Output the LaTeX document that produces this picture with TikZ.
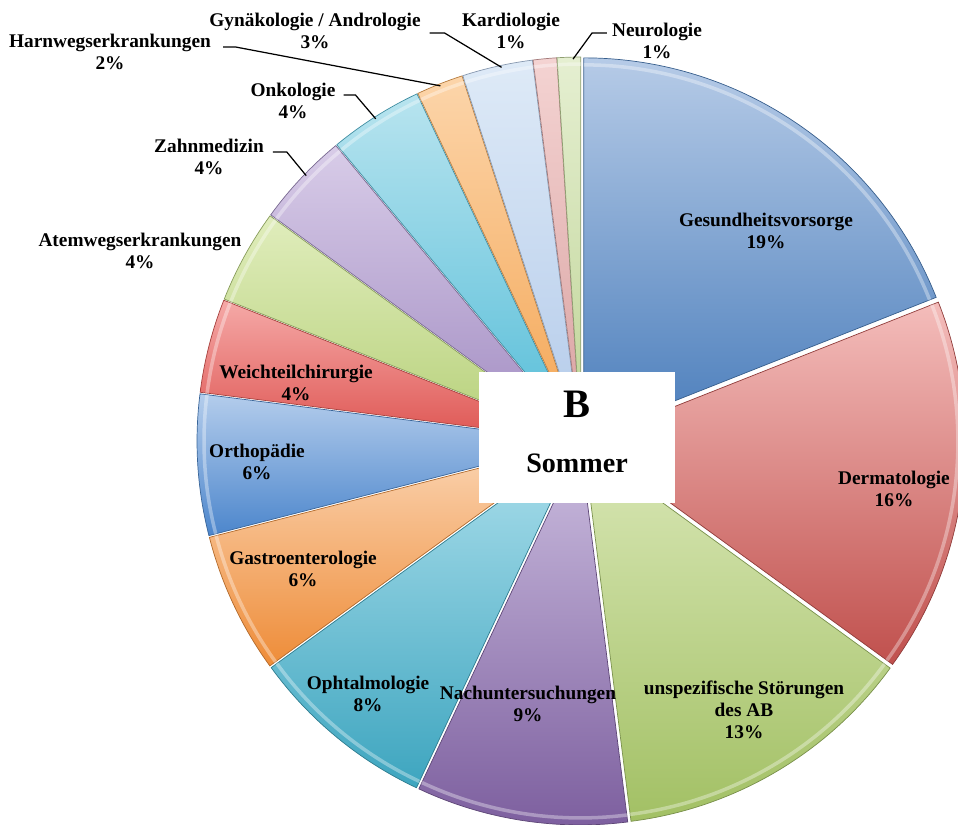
\documentclass[tikz,border=0pt]{standalone}
\usepackage{fontspec}
\setmainfont{Liberation Serif}
\usetikzlibrary{calc}

\definecolor{gesundL}{HTML}{B6CBE7}\definecolor{gesundD}{HTML}{4A7DBB}
\definecolor{dermaL}{HTML}{F4BDBB}\definecolor{dermaD}{HTML}{C0504D}
\definecolor{unspezL}{HTML}{D9E7B6}\definecolor{unspezD}{HTML}{A2C064}
\definecolor{nachL}{HTML}{CBBDDF}\definecolor{nachD}{HTML}{7C5E9E}
\definecolor{ophtL}{HTML}{ACDFEC}\definecolor{ophtD}{HTML}{3DA5BF}
\definecolor{gastroL}{HTML}{FBD5B3}\definecolor{gastroD}{HTML}{EE8C38}
\definecolor{orthoL}{HTML}{B4CDEC}\definecolor{orthoD}{HTML}{4C86CC}
\definecolor{weichL}{HTML}{F5A9A7}\definecolor{weichD}{HTML}{DE5552}
\definecolor{atemL}{HTML}{E0EDBC}\definecolor{atemD}{HTML}{B6D079}
\definecolor{zahnL}{HTML}{D8CCE8}\definecolor{zahnD}{HTML}{A28CC2}
\definecolor{onkoL}{HTML}{B8E4EF}\definecolor{onkoD}{HTML}{55BDD8}
\definecolor{harnL}{HTML}{FCD5AA}\definecolor{harnD}{HTML}{F4A655}
\definecolor{gynL}{HTML}{DEEAF7}\definecolor{gynD}{HTML}{B4CBEA}
\definecolor{kardioL}{HTML}{F4D3D2}\definecolor{kardioD}{HTML}{D9A2A1}
\definecolor{neuroL}{HTML}{E5EFD1}\definecolor{neuroD}{HTML}{BFD496}

% one exploded slice: start angle, end angle, light colour, dark colour
\newcommand{\pieslice}[4]{%
	\pgfmathsetmacro{\slicemid}{(#1+#2)/2}
	\draw[top color=#3, bottom color=#4, draw=#4!75!black, line width=0.4pt]
		(\slicemid:5) -- ++(#1:379) arc (#1:#2:379) -- cycle;
	\draw[white, opacity=0.35, line width=2pt] ($(\slicemid:5)+(#1:372)$) arc (#1:#2:372);
}

\tikzset{
	lbl/.style={font=\bfseries\fontsize{11}{12.5}\selectfont, align=center, inner sep=1pt},
	leader/.style={black, line width=0.7pt},
}

\begin{document}
\begin{tikzpicture}[x=0.02cm, y=-0.02cm]
		%%%%% START %%%%%
		\useasboundingbox (0,0) rectangle (958,825);
		
		\begin{scope}[shift={(581,441)}, y=0.02cm]
			\pieslice{90}{21.6}{gesundL}{gesundD}
			\pieslice{21.6}{-36}{dermaL}{dermaD}
			\pieslice{-36}{-82.8}{unspezL}{unspezD}
			\pieslice{-82.8}{-115.2}{nachL}{nachD}
			\pieslice{-115.2}{-144}{ophtL}{ophtD}
			\pieslice{-144}{-165.6}{gastroL}{gastroD}
			\pieslice{-165.6}{-187.2}{orthoL}{orthoD}
			\pieslice{-187.2}{-201.6}{weichL}{weichD}
			\pieslice{-201.6}{-216}{atemL}{atemD}
			\pieslice{-216}{-230.4}{zahnL}{zahnD}
			\pieslice{-230.4}{-244.8}{onkoL}{onkoD}
			\pieslice{-244.8}{-252}{harnL}{harnD}
			\pieslice{-252}{-262.8}{gynL}{gynD}
			\pieslice{-262.8}{-266.4}{kardioL}{kardioD}
			\pieslice{-266.4}{-270}{neuroL}{neuroD}
			
			% where the leaders touch the rim
			\coordinate (harnP) at (111.6:382);
			\coordinate (gynP) at (102:382);
			\coordinate (onkoP) at (122.5:382);
			\coordinate (zahnP) at (136:382);
			\coordinate (neuroP) at (91.2:382);
		\end{scope}
		
		% labels inside the slices
		\node[lbl] (lGesund) at (766,231) {Gesundheitsvorsorge\\19\%};
		\node[lbl] (lDerma) at (894,489) {Dermatologie\\16\%};
		\node[lbl] (lUnspez) at (744,710) {unspezifische Störungen\\des AB\\13\%};
		\node[lbl] (lNach) at (528,704) {Nachuntersuchungen\\9\%};
		\node[lbl] (lOpht) at (368,694) {Ophtalmologie\\8\%};
		\node[lbl] (lGastro) at (303,569) {Gastroenterologie\\6\%};
		\node[lbl] (lOrtho) at (257,462) {Orthopädie\\6\%};
		\node[lbl] (lWeich) at (296,383) {Weichteilchirurgie\\4\%};
		
		% labels outside
		\node[lbl] (lAtem) at (140,251) {Atemwegserkrankungen\\4\%};
		\node[lbl] (lZahn) at (209,157) {Zahnmedizin\\4\%};
		\node[lbl] (lOnko) at (293,101) {Onkologie\\4\%};
		\node[lbl] (lHarn) at (110,52) {Harnwegserkrankungen\\2\%};
		\node[lbl] (lGyn) at (315,31) {Gynäkologie / Andrologie\\3\%};
		\node[lbl] (lKardio) at (511,31) {Kardiologie\\1\%};
		\node[lbl] (lNeuro) at (657,41) {Neurologie\\1\%};
		
		\draw[leader] (lHarn.north east) ++(10,15) -- ++(13,0) -- (harnP);
		\draw[leader] (lGyn.north east) ++(7,22) -- ++(15,0) -- (gynP);
		\draw[leader] (lOnko.north east) ++(6,14) -- ++(12,0) -- (onkoP);
		\draw[leader] (lZahn.north east) ++(7,15) -- ++(14,0) -- (zahnP);
		\draw[leader] (lNeuro.north west) ++(-3,12) -- ++(-15,0) -- (neuroP);
		
		% box in the middle
		\node[fill=white, minimum width=3.92cm, minimum height=2.62cm, inner sep=0pt] (seasonBox) at (577,437.5) {};
		\node[font=\bfseries\fontsize{23}{23}\selectfont, anchor=base] (boxLetter) at (577,417) {B};
		\node[font=\bfseries\fontsize{16}{16}\selectfont, anchor=base] (boxSeason) at (577,472) {Sommer};
		
		%%%%% END %%%%%
\end{tikzpicture}
\end{document}
